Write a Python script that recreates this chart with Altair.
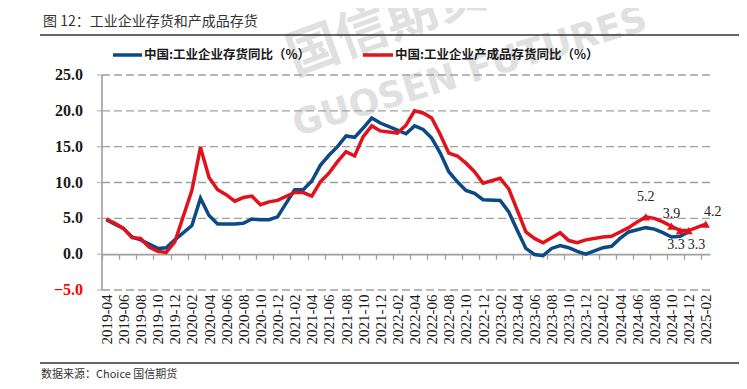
import altair as alt
import pandas as pd

# ---- data (January not published) ----
blue_dates = ["2019-04","2019-05","2019-06","2019-07","2019-08","2019-09","2019-10","2019-11","2019-12",
              "2020-02","2020-03","2020-04","2020-05","2020-06","2020-07","2020-08","2020-09","2020-10","2020-11","2020-12",
              "2021-02","2021-03","2021-04","2021-05","2021-06","2021-07","2021-08","2021-09","2021-10","2021-11","2021-12",
              "2022-02","2022-03","2022-04","2022-05","2022-06","2022-07","2022-08","2022-09","2022-10","2022-11","2022-12",
              "2023-02","2023-03","2023-04","2023-05","2023-06","2023-07","2023-08","2023-09","2023-10","2023-11","2023-12",
              "2024-02","2024-03","2024-04","2024-05","2024-06","2024-07","2024-08","2024-09","2024-10","2024-11","2024-12"]
blue_vals = [4.8, 4.2, 3.6, 2.4, 2.0, 1.4, 0.8, 0.9, 2.0,
             4.0, 7.8, 5.4, 4.2, 4.2, 4.2, 4.3, 4.9, 4.8, 4.8, 5.2,
             9.0, 9.0, 10.2, 12.4, 13.8, 15.0, 16.5, 16.3, 17.6, 19.0, 18.3,
             17.3, 16.8, 17.9, 17.4, 16.2, 14.1, 11.5, 10.1, 8.9, 8.5, 7.6,
             7.5, 5.9, 3.3, 0.8, -0.05, -0.2, 0.8, 1.2, 0.9, 0.4, 0.0,
             0.9, 1.1, 2.2, 3.1, 3.4, 3.7, 3.5, 3.0, 2.4, 2.5, 3.1]

red_dates = blue_dates + ["2025-02"]
red_vals = [4.9, 4.3, 3.6, 2.3, 2.2, 1.0, 0.4, 0.25, 1.7,
            8.9, 14.9, 10.7, 9.0, 8.3, 7.4, 7.9, 8.1, 6.9, 7.3, 7.5,
            8.6, 8.6, 8.1, 10.1, 11.3, 12.9, 14.3, 13.7, 16.4, 17.9, 17.2,
            16.9, 18.0, 20.0, 19.7, 19.0, 16.7, 14.1, 13.7, 12.7, 11.5, 9.9,
            10.6, 9.1, 6.1, 3.1, 2.2, 1.6, 2.3, 3.0, 1.9, 1.6, 2.0,
            2.4, 2.5, 3.1, 3.7, 4.5, 5.2, 5.0, 4.5, 3.9, 3.3, 3.3,
            4.2]

marker_dates = ["2024-07", "2024-10", "2024-11", "2024-12", "2025-02"]
marker_vals = [5.2, 3.9, 3.3, 3.3, 4.2]
marker_text = ["5.2", "3.9", "3.3", "3.3", "4.2"]

y_ticks = [-5, 0, 5, 10, 15, 20, 25]

series_blue = "中国:工业企业存货同比（%）"
series_red = "中国:工业企业产成品存货同比（%）"
title_text = "图 12：工业企业存货和产成品存货"
source_text = "数据来源：Choice   国信期货"


def midx(s):
    y, m = map(int, s.split("-"))
    return (y - 2019) * 12 + (m - 4)


NMAX = midx("2025-02")
X_DOMAIN = [-0.5, NMAX + 0.5]

df_blue = pd.DataFrame({"i": [midx(d) for d in blue_dates], "v": blue_vals})
df_red = pd.DataFrame({"i": [midx(d) for d in red_dates], "v": red_vals})
df_mark = pd.DataFrame({"i": [midx(d) for d in marker_dates], "v": marker_vals, "t": marker_text})
df_yt = pd.DataFrame({"g": [float(t) for t in y_ticks]})
# grid lines: each non-zero tick value spanning the x domain
df_gridlines = pd.DataFrame([{"g": float(t), "i": e} for t in y_ticks if t != 0 for e in X_DOMAIN])

W, H = 608, 215
xscale = alt.Scale(domain=X_DOMAIN, nice=False, zero=False)
yscale = alt.Scale(domain=[-5, 25], nice=False, zero=False)

BLUE = "#0b4a86"
RED = "#e0121c"
GRID = "#a0a0a0"

label_values = list(range(0, NMAX + 1, 2))
tick_values = [k - 0.5 for k in range(0, NMAX + 1, 2)]

label_expr = ("(2019 + floor((datum.value + 3) / 12)) + '-' + "
              "((((datum.value + 3) % 12) + 1) < 10 ? '0' : '') + (((datum.value + 3) % 12) + 1)")

x_axis_labels = alt.Axis(values=label_values, labelExpr=label_expr, title=None, grid=False,
                         orient="bottom", domain=False, ticks=False, labelAngle=270,
                         labelFont="Liberation Serif", labelFontSize=15, labelColor="#1a1a1a",
                         labelPadding=4, labelOverlap=False, labelFlush=False)

x_axis_ticks = alt.Axis(values=tick_values, labels=False, title=None, grid=False,
                        orient="bottom", domain=True, domainColor=GRID, domainWidth=1.6,
                        ticks=True, tickColor=GRID, tickSize=5, tickWidth=1.3,
                        offset=-H * 5 / 30)

# watermark
wm1 = alt.Chart(pd.DataFrame({"t": ["GUOSEN FUTURES"]})).mark_text(
    font="DejaVu Sans", fontSize=36, fontWeight="bold", color="#e0e0e0", angle=343,
    align="center", baseline="middle").encode(x=alt.value(368), y=alt.value(-3), text="t:N")
wm2 = alt.Chart(pd.DataFrame({"t": ["国信期货"]})).mark_text(
    font="Noto Sans CJK SC", fontSize=52, fontWeight="bold", color="#e0e0e0", angle=340,
    align="center", baseline="middle").encode(x=alt.value(285), y=alt.value(-50), text="t:N")

Y_plain = alt.Y("v:Q", scale=yscale, axis=None)
G_plain = alt.Y("g:Q", scale=yscale, axis=None)
X_plain = alt.X("i:Q", scale=xscale, axis=None)

# dashed horizontal grid drawn as lines through the scales
grid = alt.Chart(df_gridlines).mark_line(color=GRID, strokeWidth=1.4, strokeDash=[8, 4]).encode(
    x=X_plain, y=G_plain, detail=alt.Detail("g:N"))
# y "axis" drawn from the tick list through the y scale
y_domain = alt.Chart(pd.DataFrame({"a": [0]})).mark_rule(color=GRID, strokeWidth=1.6).encode(
    x=alt.value(0), y=alt.value(0), y2=alt.value(H))
y_tickmarks = alt.Chart(df_yt).mark_tick(color=GRID, orient="horizontal", size=5, thickness=1.3).encode(
    x=alt.value(-2.5), y=G_plain)
y_labels = alt.Chart(df_yt).transform_calculate(lbl="format(datum.g, '.1f')").mark_text(
    font="Liberation Serif", fontSize=16, fontWeight="bold", align="right", baseline="middle").encode(
    x=alt.value(-19), y=G_plain, text="lbl:N",
    color=alt.condition("datum.g < 0", alt.value("#ff0000"), alt.value("#1a1a1a")))

blue_line = alt.Chart(df_blue).mark_line(color=BLUE, strokeWidth=3.5).encode(
    x=alt.X("i:Q", scale=xscale, axis=x_axis_labels), y=Y_plain)
red_line = alt.Chart(df_red).mark_line(color=RED, strokeWidth=3.5).encode(
    x=alt.X("i:Q", scale=xscale, axis=x_axis_ticks), y=Y_plain)
markers = alt.Chart(df_mark).mark_point(shape="triangle-up", filled=True, color=RED, size=70, opacity=1).encode(
    x=X_plain, y=Y_plain)


def lab(rows, dx, dy):
    return alt.Chart(df_mark.iloc[rows]).mark_text(
        font="Liberation Serif", fontSize=14, color="#222222", dx=dx, dy=dy,
        align="center", baseline="middle").encode(x=X_plain, y=Y_plain, text="t:N")


labels = [lab([0], 0, -20), lab([1], 0, -12), lab([2], -4, 14), lab([3], 8, 14), lab([4], 7, -12)]


def txt(t, x, y, **kw):
    return alt.Chart(pd.DataFrame({"t": [t]})).mark_text(align="left", baseline="middle", **kw).encode(
        x=alt.value(x), y=alt.value(y), text="t:N")


def hline(x1, x2, y, color, width):
    return alt.Chart(pd.DataFrame({"a": [0]})).mark_rule(color=color, strokeWidth=width).encode(
        x=alt.value(x1), x2=alt.value(x2), y=alt.value(y))


title = txt(title_text, -59, -53, font="Noto Sans CJK SC", fontSize=14, color="#333333")
top_rule = hline(-62, 640, -40, "#333333", 1.5)
bottom_rule = hline(-62, 640, 288, "#333333", 1.5)
source = txt(source_text, -61, 300, font="Noto Sans CJK SC", fontSize=11, color="#333333")

leg_b_line = hline(11, 40, -20, BLUE, 3.5)
leg_b_text = txt(series_blue, 42, -20, font="Noto Sans CJK SC", fontSize=12.5, fontWeight="bold", color="#1a1a1a")
leg_r_line = hline(261, 291, -20, RED, 3.5)
leg_r_text = txt(series_red, 293, -20, font="Noto Sans CJK SC", fontSize=12.5, fontWeight="bold", color="#1a1a1a")

chart = alt.layer(
    wm1, wm2, grid, y_domain, y_tickmarks, y_labels, blue_line, red_line, markers, *labels,
    title, top_rule, bottom_rule, source, leg_b_line, leg_b_text, leg_r_line, leg_r_text,
).resolve_axis(x="independent", y="independent").properties(
    width=W, height=H,
    autosize=alt.AutoSizeParams(type="none"),
    padding={"left": 94, "top": 67, "right": 29, "bottom": 90},
    background="white",
).configure_view(stroke=None)

chart.save("out.html", embed_options={"renderer": "svg", "actions": False})
